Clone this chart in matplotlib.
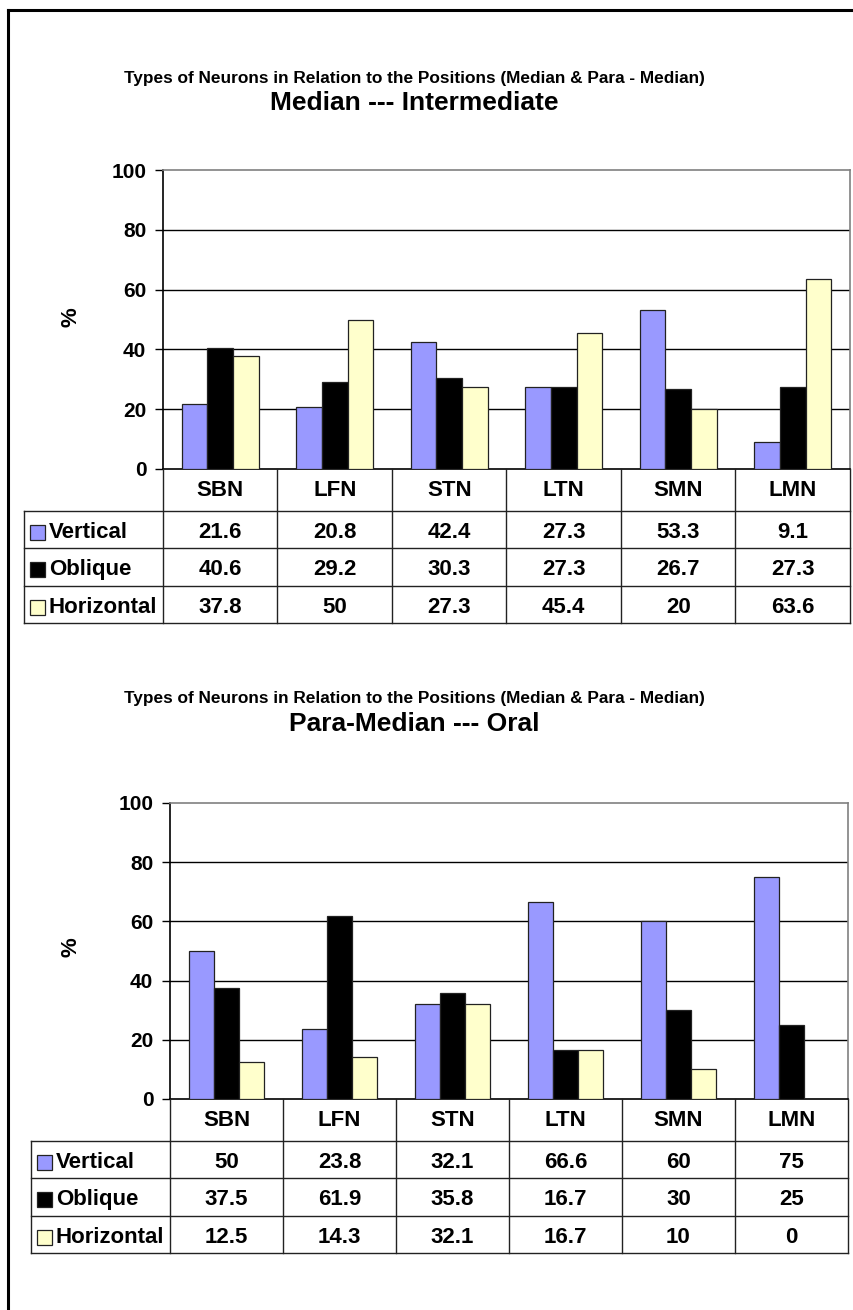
import matplotlib
matplotlib.use("Agg")
import matplotlib.pyplot as plt
from matplotlib.lines import Line2D
from matplotlib.patches import Rectangle
from matplotlib.transforms import Affine2D

categories = ["SBN", "LFN", "STN", "LTN", "SMN", "LMN"]
series_names = ["Vertical", "Oblique", "Horizontal"]
colors = ["#9999FF", "#000000", "#FFFFCC"]

# chart 1: Median --- Intermediate
mi_vertical = [21.6, 20.8, 42.4, 27.3, 53.3, 9.1]
mi_oblique = [40.6, 29.2, 30.3, 27.3, 26.7, 27.3]
mi_horizontal = [37.8, 50, 27.3, 45.4, 20, 63.6]
mi_labels = [["21.6", "20.8", "42.4", "27.3", "53.3", "9.1"],
             ["40.6", "29.2", "30.3", "27.3", "26.7", "27.3"],
             ["37.8", "50", "27.3", "45.4", "20", "63.6"]]

# chart 2: Para-Median --- Oral
po_vertical = [50, 23.8, 32.1, 66.6, 60, 75]
po_oblique = [37.5, 61.9, 35.8, 16.7, 30, 25]
po_horizontal = [12.5, 14.3, 32.1, 16.7, 10, 0]
po_labels = [["50", "23.8", "32.1", "66.6", "60", "75"],
             ["37.5", "61.9", "35.8", "16.7", "30", "25"],
             ["12.5", "14.3", "32.1", "16.7", "10", "0"]]

subtitle = "Types of Neurons in Relation to the Positions (Median & Para - Median)"
yticks = [0, 20, 40, 60, 80, 100]

W, H = 854, 1310
FONT = ["Liberation Sans", "DejaVu Sans"]

fig = plt.figure(figsize=(W / 100, H / 100), dpi=100)
fig.patch.set_facecolor("white")
pix = Affine2D().scale(1 / W, -1 / H).translate(0, 1) + fig.transFigure


def line(x0, y0, x1, y1, lw=1.0, color="#222222"):
    fig.add_artist(Line2D([x0, x1], [y0, y1], transform=pix, lw=lw, color=color))


def text(x, y, s, size, ha="center", **kw):
    fig.text(x, y, s, transform=pix, fontsize=size, fontweight="bold",
             family=FONT, ha=ha, va="center", **kw)


def draw_chart(box, tleft, ty, pct_xy, series, labels, title):
    left, top, right, bottom = box
    ax = fig.add_axes([left / W, 1 - bottom / H, (right - left) / W, (bottom - top) / H])
    x = [i + 0.5 for i in range(len(categories))]
    bw = 0.223
    for k, vals in enumerate(series):
        ax.bar([xi + (k - 1) * bw for xi in x], vals, width=bw, color=colors[k],
               edgecolor="#222222", linewidth=0.9, zorder=3)
    ax.set_xlim(0, 6)
    ax.set_ylim(0, 100)
    ax.set_yticks(yticks)
    ax.set_yticklabels([str(t) for t in yticks], fontsize=15, fontweight="bold", family=FONT)
    ax.tick_params(axis="y", direction="out", length=6, width=1, pad=6)
    ax.set_xticks([])
    for t in yticks[1:-1]:
        ax.axhline(t, color="black", lw=1, zorder=1)
    ax.spines["top"].set_color("#808080")
    ax.spines["right"].set_color("#808080")
    ax.spines["left"].set_color("black")
    ax.spines["bottom"].set_color("black")
    for s in ax.spines.values():
        s.set_linewidth(1.2)
    text(pct_xy[0], pct_xy[1], "%", 16, rotation=90)

    # titles
    text(414, ty, subtitle, 12.4)
    text(414, ty + 25, title, 19)

    # data table
    colw = (right - left) / len(categories)
    hdr = 42
    rowh = 37.3
    y_rows = [bottom + hdr + r * rowh for r in range(4)]
    for c in range(len(categories) + 1):
        xc = left + c * colw
        line(xc, bottom, xc, y_rows[-1])
    line(tleft, y_rows[0], tleft, y_rows[-1])
    for yr in y_rows:
        line(tleft, yr, right, yr)
    for c, cat in enumerate(categories):
        text(left + (c + 0.5) * colw, bottom + hdr / 2 + 1, cat, 16)
    for r in range(3):
        yc = y_rows[r] + rowh / 2 + 3
        fig.add_artist(Rectangle((tleft + 6, yc - 7.5), 15, 15, transform=pix,
                                 facecolor=colors[r], edgecolor="#222222", lw=0.9))
        text(tleft + 25, yc, series_names[r], 16, ha="left")
        for c in range(len(categories)):
            text(left + (c + 0.5) * colw, yc, labels[r][c], 16)


draw_chart((163, 170, 850, 469), 24, 78, (71, 317), [mi_vertical, mi_oblique, mi_horizontal],
           mi_labels, "Median --- Intermediate")
draw_chart((170, 803, 848, 1099), 31, 699, (71, 947), [po_vertical, po_oblique, po_horizontal],
           po_labels, "Para-Median --- Oral")

# outer frame (continues past the right and bottom edges)
line(8, 10, 8, H + 5, lw=2.2, color="black")
line(8, 10, W + 5, 10, lw=2.2, color="black")

fig.savefig("out.png", dpi=100, facecolor="white")
